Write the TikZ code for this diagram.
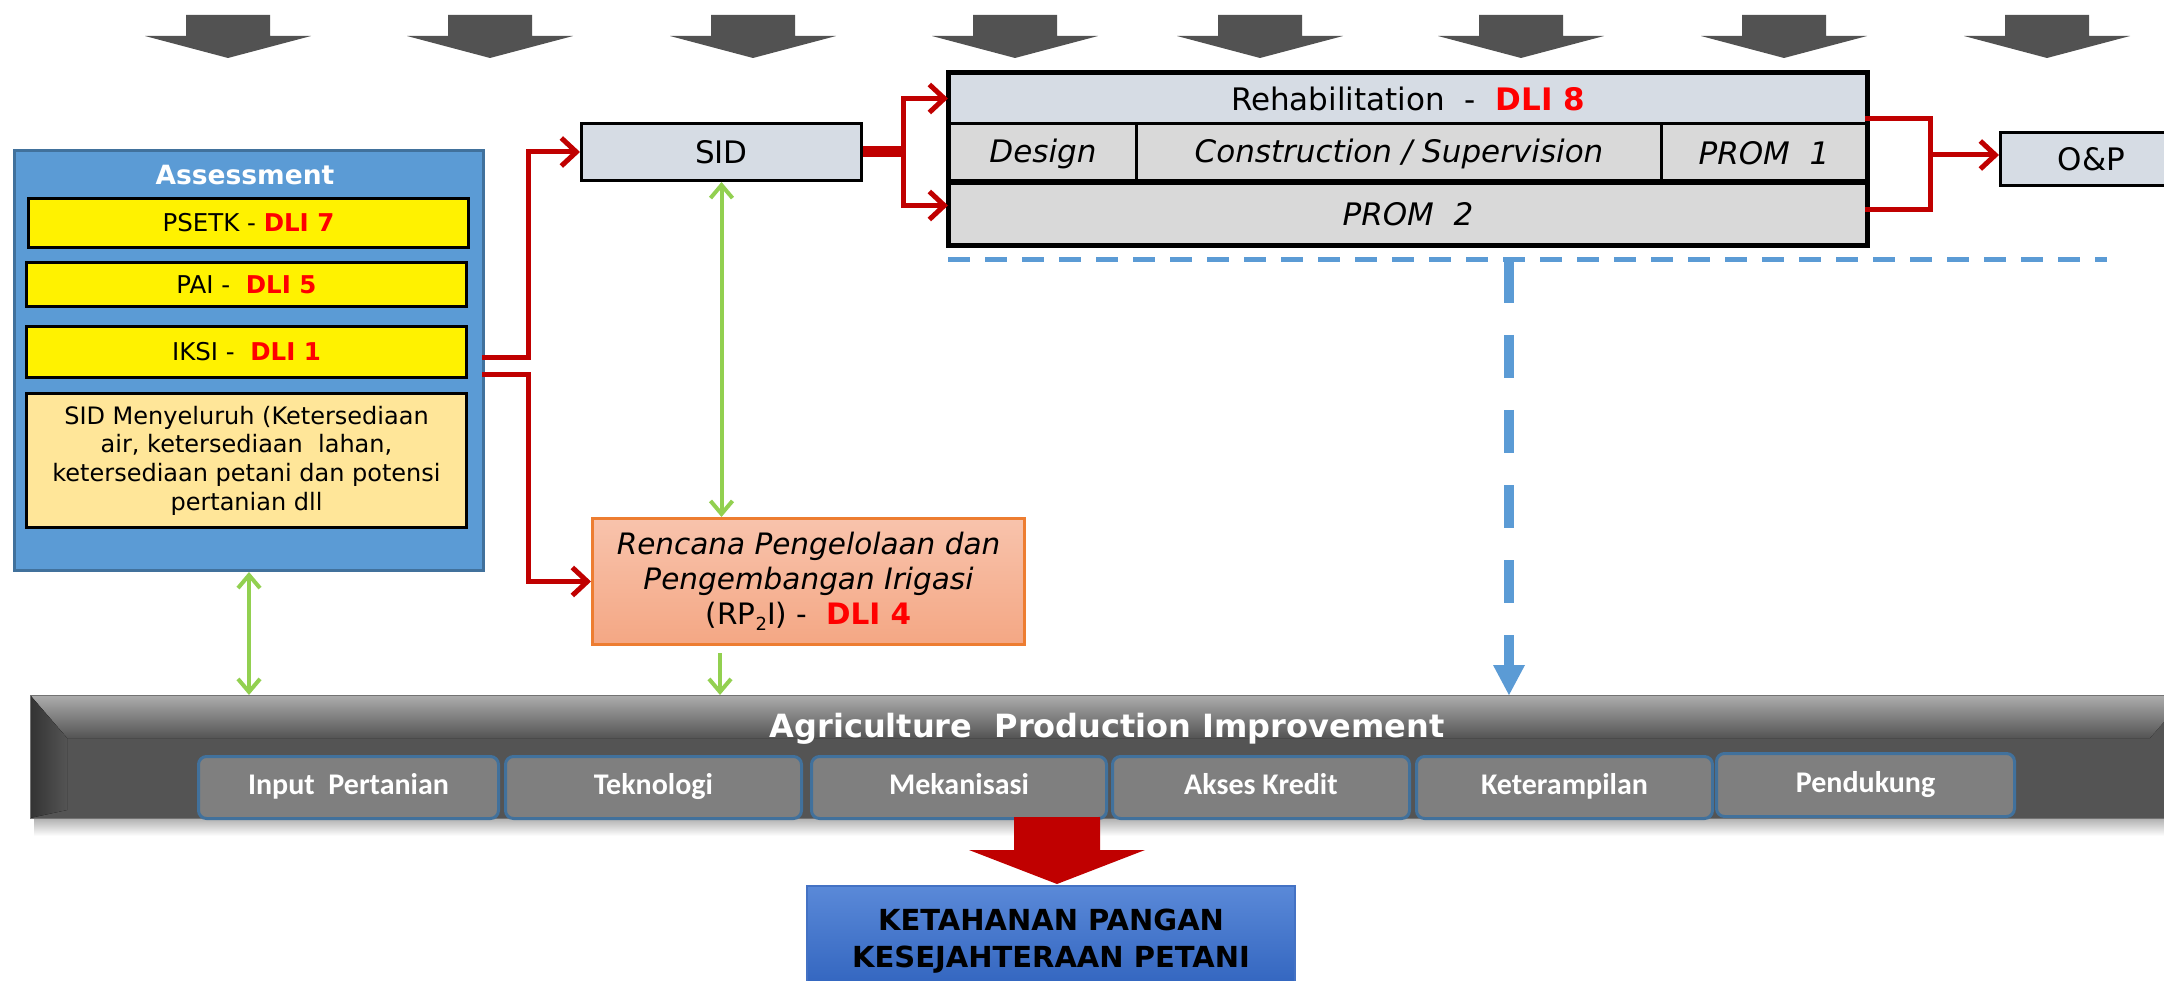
\documentclass[tikz,border=0pt]{standalone}
\usepackage{fontspec}
\setmainfont{DejaVu Sans}
\newfontfamily\calfont{Carlito}
\usetikzlibrary{arrows.meta,calc}
\definecolor{arrowgray}{HTML}{525252}
\definecolor{lightblue}{HTML}{D6DCE4}
\definecolor{lgray}{HTML}{D9D9D9}
\definecolor{asblue}{HTML}{5B9BD5}
\definecolor{asborder}{HTML}{41719C}
\definecolor{sidm}{HTML}{FFE699}
\definecolor{darkred}{HTML}{C00000}
\definecolor{dlired}{HTML}{FF0000}
\definecolor{lgreen}{HTML}{92D050}
\definecolor{dashblue}{HTML}{5B9BD5}
\definecolor{rpborder}{HTML}{ED7D31}
\definecolor{rptop}{HTML}{F8C3AC}
\definecolor{rpbot}{HTML}{F4A784}
\definecolor{subfill}{HTML}{7F7F7F}
\definecolor{kettop}{HTML}{5A89D8}
\definecolor{ketbot}{HTML}{2F62BD}
\definecolor{ketborder}{HTML}{4472C4}
\definecolor{barbody}{HTML}{545454}
\tikzset{
  bx/.style={draw=black, line width=3pt, inner sep=0pt, anchor=north west, align=center},
  toptxt/.style={font=\fontsize{31}{37}\selectfont},
  ittxt/.style={font=\fontsize{31}{37}\selectfont\itshape},
  yel/.style={bx, fill=yellow, minimum width=440pt, font=\fontsize{24.5}{29}\selectfont},
  redln/.style={draw=darkred, line width=5pt},
  redarr/.style={redln, -{Straight Barb[length=15pt,width=28pt]}},
  grn/.style={draw=lgreen, line width=4pt},
  gtip/.tip={Straight Barb[length=13pt,width=22pt]},
  subbox/.style={draw=asborder, line width=3pt, fill=subfill, rounded corners=8pt, anchor=north west,
    inner sep=0pt, text=white, font=\calfont\bfseries\fontsize{30}{36}\selectfont, text height=20pt, text depth=6pt}
}
\newcommand{\dlitxt}[1]{{\bfseries\color{dlired}#1}}
\begin{document}
\begin{tikzpicture}[x=1pt,y=-1pt]
\useasboundingbox (0,0) rectangle (2164,981);
\clip (0,0) rectangle (2164,981);
\fill[white] (0,0) rectangle (2164,981);

% top arrows
\foreach \c in {228,490,753,1015,1260,1521,1784,2047}{
  \fill[arrowgray] ({\c-42},15) -- ({\c+42},15) -- ({\c+42},36) -- ({\c+83},36) -- (\c,58) -- ({\c-83},36) -- ({\c-42},36) -- cycle;
}

% rehabilitation block
\node[bx, fill=lightblue, minimum width=917pt, minimum height=50pt, toptxt] (r1) at (948,72) {Rehabilitation~ -~ \dlitxt{DLI 8}};
\node[bx, fill=lgray, minimum width=187pt, minimum height=60pt, ittxt] (dsg) at (948,122) {Design};
\node[bx, fill=lgray, minimum width=525pt, minimum height=60pt, ittxt] (cons) at (1135,122) {Construction / Supervision};
\node[bx, fill=lgray, minimum width=205pt, minimum height=60pt, ittxt] (p1) at (1660,122) {PROM~ 1};
\node[bx, fill=lgray, minimum width=917pt, minimum height=61pt, ittxt] (p2) at (948,182) {PROM~ 2};
\draw[line width=3.5pt] (r1.north west) rectangle (p2.south east);
\draw[line width=5pt] (p2.north west) -- (p2.north east);

% O&P
\node[bx, fill=lightblue, minimum width=182pt, minimum height=53pt, toptxt] (op) at (1999,131) {O\&P};
\coordinate (j3) at (1930,155);
\coordinate (b1) at (1865,119);
\coordinate (b2) at (1865,210);
\draw[redln] (b1) -| (j3) |- (b2);
\draw[redarr] (j3) -- (j3 -| op.west);

% SID
\node[bx, fill=lightblue, minimum width=280pt, minimum height=57pt, toptxt] (sid) at (580,122) {SID};
\coordinate (j2) at (903,150);
\draw[darkred, line width=11pt] (sid.east) -- (sid.east -| j2);
\draw[redarr] (j2) |- (r1.west);
\draw[redarr] (j2) |- ([yshift=8.5pt]p2.west);

% Assessment
\node[draw=asborder, fill=asblue, line width=3pt, minimum width=469pt, minimum height=420pt, anchor=north west, inner sep=0pt] (as) at (13,149) {};
\node[anchor=base, text=white, font=\bfseries\fontsize{26.5}{30}\selectfont] (ast) at (245,185) {Assessment};
\node[yel, minimum height=49pt] (psetk) at (27,197) {PSETK - \dlitxt{DLI 7}};
\node[yel, minimum height=44pt] (pai) at (25,261) {PAI -~ \dlitxt{DLI 5}};
\node[yel, minimum height=51pt] (iksi) at (25,325) {IKSI -~ \dlitxt{DLI 1}};
\node[bx, fill=sidm, minimum width=440pt, minimum height=134pt, font=\fontsize{24}{28.6}\selectfont] (sidm) at (25,392)
  {SID Menyeluruh (Ketersediaan\\ air, ketersediaan~ lahan,\\ ketersediaan petani dan potensi\\ pertanian dll};

% RP2I
\node[draw=rpborder, line width=3pt, top color=rptop, bottom color=rpbot, minimum width=432pt, minimum height=126pt,
  anchor=north west, align=center, inner sep=0pt, font=\fontsize{29.5}{35}\selectfont] (rp) at (591,517)
  {\itshape Rencana Pengelolaan dan\\ \itshape Pengembangan Irigasi\\ \upshape (RP\raisebox{-6pt}{\fontsize{18}{18}\selectfont 2}I) -~ \dlitxt{DLI 4}};

% red connectors from assessment
\coordinate (a1) at (482,358);
\coordinate (a2) at (482,375);
\coordinate (k1) at (528,358);
\coordinate (k2) at (528,375);
\draw[redarr] (a1) -- (k1) |- (sid.west);
\draw[redarr] (a2) -- (k2) |- (rp.west);

% blue dashed
\coordinate (d1) at (948,260);
\coordinate (d2) at (2107,260);
\coordinate (d3) at (1509,260);
\draw[dashblue, line width=5pt, dash pattern=on 22pt off 15pt] (d1) -- (d2);

% agriculture bar
\fill[top color=black!35, bottom color=white] (34,816) rectangle (2187,836);
\node[fill=barbody, minimum width=2157pt, minimum height=123pt, anchor=north west, inner sep=0pt] (bar) at (30,695) {};
\fill[top color=black!32, bottom color=barbody] (30,695) -- (2187,695) -- (2150,738) -- (67,738) -- cycle;
\fill[left color=black!80, right color=barbody] (30,695) -- (67,738) -- (67,810) -- (30,818) -- cycle;
\draw[black!55, line width=1pt] (30,695) rectangle (2187,818);
\node[anchor=base, text=white, font=\bfseries\fontsize{32}{37}\selectfont] (bart) at (1107,737) {Agriculture~ Production Improvement};

\node[subbox, minimum width=300pt, minimum height=62pt] (s1) at (197,755) {Input~ Pertanian};
\node[subbox, minimum width=296pt, minimum height=62pt] (s2) at (504,755) {Teknologi};
\node[subbox, minimum width=295pt, minimum height=62pt] (s3) at (810,755) {Mekanisasi};
\node[subbox, minimum width=297pt, minimum height=62pt] (s4) at (1111,755) {Akses Kredit};
\node[subbox, minimum width=296pt, minimum height=62pt] (s5) at (1415,755) {Keterampilan};
\node[subbox, minimum width=298pt, minimum height=63pt] (s6) at (1715,752) {Pendukung};

% blue vertical dashed arrow
\draw[dashblue, line width=10pt, dash pattern=on 43pt off 32pt, -{Triangle[length=30pt,width=32pt,line width=0pt]}] (d3) -- (d3 |- bar.north);

% green arrows
\draw[grn, gtip-gtip] (sid.south) -- (sid.south |- rp.north);
\coordinate (g1) at (720,653);
\draw[grn, -gtip] (g1) -- (g1 |- bar.north);
\draw[grn, gtip-gtip] (as.south) -- (as.south |- bar.north);

% red big arrow
\fill[darkred] (1014,817) -- (1100,817) -- (1100,850) -- (1145,850) -- (1057,884) -- (969,850) -- (1014,850) -- cycle;

% result box
\node[draw=ketborder, line width=2pt, top color=kettop, bottom color=ketbot, minimum width=488pt, minimum height=110pt,
  anchor=north west, align=center, inner sep=0pt, font=\bfseries\fontsize{29}{37}\selectfont] (ket) at (806,885)
  {KETAHANAN PANGAN\\KESEJAHTERAAN PETANI};
\end{tikzpicture}
\end{document}
